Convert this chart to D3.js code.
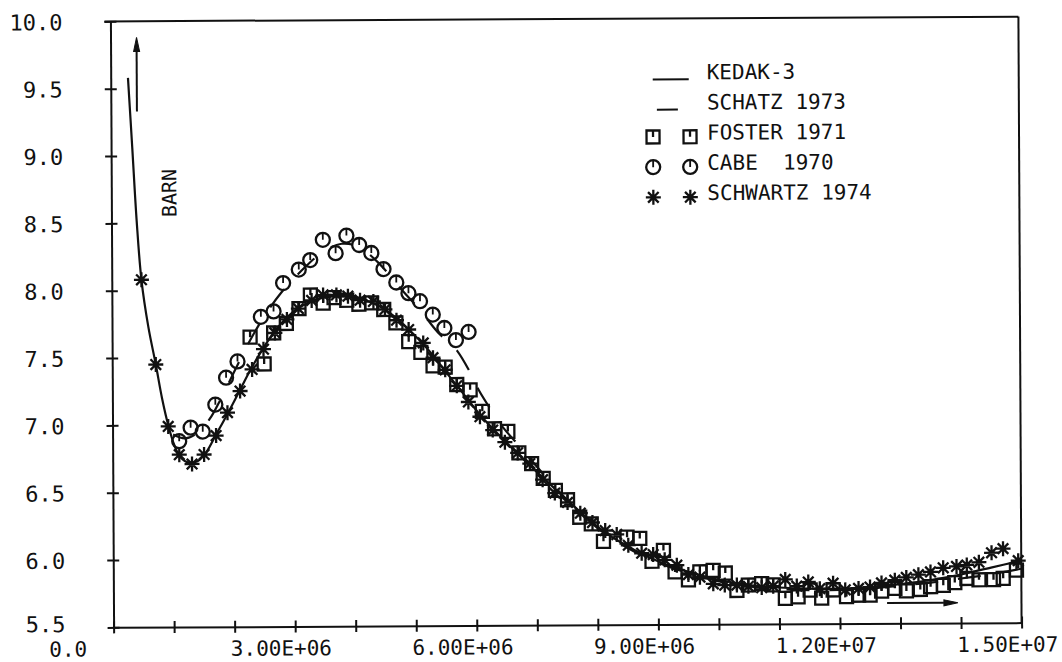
<!DOCTYPE html>
<html lang="en">
<head>
<meta charset="utf-8">
<script src="https://d3js.org/d3.v7.min.js"></script>
<style>
  body { margin: 0; background: #fff; }
  text { font-family: "DejaVu Sans Mono", monospace; fill: #111; }
</style>
</head>
<body>
<svg id="chart"></svg>
<script>
// energies in units of 1E6 (eV), cross sections in barn

// KEDAK-3 evaluated curve
var kedakE = [0.285, 0.35, 0.416, 0.49, 0.6, 0.72, 0.82, 0.92, 1.02, 1.12, 1.25, 1.4, 1.55, 1.7, 1.9, 2.1, 2.3, 2.5, 2.7, 2.9, 3.1, 3.4, 3.7, 4.0, 4.3, 4.6, 4.9, 5.2, 5.5, 5.8, 6.1, 6.5, 7.0, 7.5, 8.0, 8.5, 9.0, 9.5, 10.0, 10.5, 11.0, 11.5, 12.0, 12.5, 13.0, 13.5, 14.0, 14.5, 15.0];
var kedakS = [9.58, 9.06, 8.52, 8.08, 7.73, 7.45, 7.2, 7.0, 6.85, 6.76, 6.72, 6.73, 6.8, 6.92, 7.08, 7.25, 7.42, 7.57, 7.7, 7.8, 7.87, 7.93, 7.95, 7.94, 7.9, 7.82, 7.7, 7.56, 7.39, 7.22, 7.05, 6.86, 6.64, 6.43, 6.23, 6.08, 5.97, 5.89, 5.83, 5.79, 5.77, 5.76, 5.76, 5.77, 5.79, 5.82, 5.86, 5.91, 5.96];

// SCHATZ 1973 curve (dashed)
var schatzE = [1.0, 1.2, 1.4, 1.6, 1.8, 2.0, 2.2, 2.4, 2.6, 2.8, 3.0, 3.2, 3.4, 3.6, 3.8, 4.0, 4.2, 4.4, 4.6, 4.8, 5.0, 5.2, 5.4, 5.6, 5.7, 5.9, 6.05, 6.24, 6.45, 6.7, 7.0, 7.5, 8.0, 8.5, 9.0, 9.5, 10.0, 10.5, 11.0, 11.5, 12.0, 12.5, 13.0, 13.5, 14.0, 14.5, 15.0];
var schatzS = [6.93, 6.9, 6.94, 7.04, 7.2, 7.38, 7.56, 7.72, 7.86, 7.98, 8.08, 8.17, 8.25, 8.31, 8.34, 8.33, 8.28, 8.2, 8.1, 7.99, 7.89, 7.78, 7.67, 7.59, 7.54, 7.39, 7.25, 7.11, 6.97, 6.84, 6.68, 6.43, 6.22, 6.07, 5.96, 5.88, 5.82, 5.78, 5.76, 5.75, 5.75, 5.76, 5.78, 5.8, 5.83, 5.86, 5.9];

// FOSTER 1971 (squares)
var fosterE = [2.28, 2.51, 2.67, 2.88, 3.09, 3.28, 3.49, 3.67, 3.88, 4.08, 4.29, 4.49, 4.69, 4.9, 5.1, 5.3, 5.5, 5.69, 5.91, 6.11, 6.31, 6.53, 6.71, 6.92, 7.11, 7.31, 7.51, 7.71, 7.9, 8.1, 8.49, 8.7, 8.9, 9.09, 9.28, 9.5, 9.69, 9.91, 10.11, 10.3, 10.49, 10.71, 10.9, 11.1, 11.31, 11.51, 11.7, 11.89, 12.11, 12.31, 12.5, 12.69, 12.91, 13.1, 13.33, 13.5, 13.71, 13.9, 14.1, 14.3, 14.54, 14.7, 14.92];
var fosterS = [7.65, 7.45, 7.68, 7.75, 7.86, 7.96, 7.9, 7.94, 7.92, 7.89, 7.9, 7.85, 7.75, 7.61, 7.53, 7.43, 7.42, 7.29, 7.25, 7.09, 6.96, 6.94, 6.78, 6.7, 6.59, 6.5, 6.43, 6.3, 6.25, 6.12, 6.15, 6.14, 5.97, 6.05, 5.89, 5.83, 5.89, 5.9, 5.88, 5.75, 5.79, 5.8, 5.79, 5.69, 5.7, 5.75, 5.69, 5.75, 5.7, 5.71, 5.71, 5.74, 5.76, 5.74, 5.75, 5.77, 5.78, 5.8, 5.83, 5.82, 5.82, 5.83, 5.89];

// CABE 1970 (circles)
var cabeE = [1.1, 1.29, 1.49, 1.7, 1.88, 2.07, 2.46, 2.67, 2.83, 3.09, 3.28, 3.49, 3.7, 3.88, 4.09, 4.29, 4.49, 4.7, 4.9, 5.09, 5.3, 5.49, 5.68, 5.89];
var cabeS = [6.88, 6.98, 6.95, 7.15, 7.35, 7.47, 7.8, 7.84, 8.05, 8.15, 8.22, 8.37, 8.27, 8.4, 8.33, 8.27, 8.15, 8.05, 7.97, 7.91, 7.81, 7.71, 7.62, 7.68];

// SCHWARTZ 1974 (asterisks)
var schwartzE = [0.49, 0.72, 0.92, 1.1, 1.31, 1.51, 1.71, 1.9, 2.11, 2.31, 2.5, 2.69, 2.89, 3.08, 3.3, 3.49, 3.71, 3.9, 4.1, 4.32, 4.51, 4.7, 4.9, 5.14, 5.3, 5.5, 5.69, 5.88, 6.07, 6.28, 6.48, 6.69, 6.89, 7.1, 7.3, 7.51, 7.72, 7.92, 8.13, 8.32, 8.51, 8.73, 8.92, 9.11, 9.31, 9.5, 9.69, 9.91, 10.1, 10.3, 10.49, 10.71, 10.9, 11.1, 11.29, 11.48, 11.67, 11.89, 12.09, 12.31, 12.5, 12.69, 12.91, 13.1, 13.3, 13.5, 13.71, 13.93, 14.1, 14.3, 14.51, 14.7, 14.95];
var schwartzS = [8.08, 7.45, 6.99, 6.78, 6.71, 6.78, 6.92, 7.09, 7.25, 7.41, 7.56, 7.68, 7.78, 7.86, 7.92, 7.96, 7.96, 7.95, 7.92, 7.91, 7.85, 7.77, 7.7, 7.6, 7.49, 7.4, 7.28, 7.16, 7.05, 6.95, 6.86, 6.78, 6.7, 6.58, 6.48, 6.41, 6.33, 6.26, 6.2, 6.17, 6.09, 6.03, 6.02, 5.98, 5.94, 5.87, 5.85, 5.8, 5.79, 5.79, 5.78, 5.77, 5.78, 5.83, 5.78, 5.81, 5.76, 5.8, 5.75, 5.76, 5.77, 5.8, 5.82, 5.84, 5.86, 5.88, 5.91, 5.92, 5.93, 5.95, 6.02, 6.05, 5.96];

// axis ticks and labels
var xTickValues = [0, 3, 6, 9, 12, 15];
var xTickLabels = ["0.0", "3.00E+06", "6.00E+06", "9.00E+06", "1.20E+07", "1.50E+07"];
var yTickValues = [5.5, 6.0, 6.5, 7.0, 7.5, 8.0, 8.5, 9.0, 9.5, 10.0];
var yTickLabels = ["5.5", "6.0", "6.5", "7.0", "7.5", "8.0", "8.5", "9.0", "9.5", "10.0"];

var legendNames = ["KEDAK-3", "SCHATZ 1973", "FOSTER 1971", "CABE  1970", "SCHWARTZ 1974"];

var width = 1062, height = 662;
var plotLeft = 112, plotRight = 1020, plotTop = 19, plotBottom = 625;
var ink = "#111";

var svg = d3.select("#chart").attr("width", width).attr("height", height);
svg.append("rect").attr("width", width).attr("height", height).attr("fill", "#fff");

// the scanned plot sits a little askew
var g = svg.append("g").attr("transform", "rotate(-0.3,566,322)");

var x = d3.scaleLinear().domain([0, 15]).range([plotLeft, plotRight]);
var y = d3.scaleLinear().domain([5.5, 10]).range([plotBottom, plotTop]);

// frame
g.append("line").attr("x1", plotLeft - 6).attr("x2", plotRight).attr("y1", plotTop).attr("y2", plotTop)
  .attr("stroke", ink).attr("stroke-width", 2);
g.append("line").attr("x1", plotRight).attr("x2", plotRight).attr("y1", plotTop).attr("y2", plotBottom)
  .attr("stroke", ink).attr("stroke-width", 2);

// x axis
var xAxis = d3.axisBottom(x).tickValues(d3.range(0, 16)).tickSizeOuter(0)
  .tickFormat(function(d) {
    var i = xTickValues.indexOf(d);
    return i < 0 ? "" : xTickLabels[i];
  });
var gx = g.append("g").attr("transform", "translate(0," + plotBottom + ")").call(xAxis);
gx.select(".domain").attr("stroke", ink).attr("stroke-width", 2);
gx.selectAll(".tick line").attr("y1", -6).attr("y2", 6).attr("stroke", ink).attr("stroke-width", 2);
gx.selectAll(".tick text").attr("dy", null).attr("y", 29).attr("x", -65)
  .attr("text-anchor", "start").style("font-size", "21px").style("font-family", "DejaVu Sans Mono").attr("fill", ink);

// y axis
var yAxis = d3.axisLeft(y).tickValues(yTickValues).tickSizeOuter(0)
  .tickFormat(function(d, i) { return yTickLabels[i]; });
var gy = g.append("g").attr("transform", "translate(" + plotLeft + ",0)").call(yAxis);
gy.select(".domain").attr("stroke", ink).attr("stroke-width", 2);
gy.selectAll(".tick line").attr("x1", -6).attr("x2", 6).attr("stroke", ink).attr("stroke-width", 2);
gy.selectAll(".tick text").attr("dy", null)
  .attr("y", function(d) { return d === 5.5 ? 4 : 8; })   // lowest label sits a bit higher, clear of "0.0"
  .attr("x", -48)
  .attr("text-anchor", "end").style("font-size", "22px").style("font-family", "DejaVu Sans Mono").attr("fill", ink);

// curves
var line = d3.line()
  .x(function(d) { return x(d[0]); })
  .y(function(d) { return y(d[1]); })
  .curve(d3.curveCatmullRom.alpha(0.5));

g.append("path").datum(d3.zip(kedakE, kedakS)).attr("d", line)
  .attr("fill", "none").attr("stroke", ink).attr("stroke-width", 2.2);
g.append("path").datum(d3.zip(schatzE, schatzS)).attr("d", line)
  .attr("fill", "none").attr("stroke", ink).attr("stroke-width", 2.2)
  .attr("stroke-dasharray", "23,20");

// marker shapes
var squarePath = "M-6.5,-6.5H6.5V6.5H-6.5Z M0,-6.5V0";
var starPath = "M-7.5,0H7.5 M0,-7.5V7.5 M-5.3,-5.3L5.3,5.3 M-5.3,5.3L5.3,-5.3";

function addSquares(sel) {
  sel.append("path").attr("d", squarePath).attr("fill", "none").attr("stroke", ink).attr("stroke-width", 2.3);
}
function addCircles(sel) {
  sel.append("circle").attr("r", 7).attr("fill", "none").attr("stroke", ink).attr("stroke-width", 2.3);
  sel.append("path").attr("d", "M0,-7V0").attr("stroke", ink).attr("stroke-width", 1.8);
}
function addStars(sel) {
  sel.append("path").attr("d", starPath).attr("fill", "none").attr("stroke", ink).attr("stroke-width", 2.3);
}

g.selectAll("g.foster").data(d3.zip(fosterE, fosterS)).enter().append("g")
  .attr("class", "foster")
  .attr("transform", function(d) { return "translate(" + x(d[0]) + "," + y(d[1]) + ")"; })
  .call(addSquares);

g.selectAll("g.cabe").data(d3.zip(cabeE, cabeS)).enter().append("g")
  .attr("class", "cabe")
  .attr("transform", function(d) { return "translate(" + x(d[0]) + "," + y(d[1]) + ")"; })
  .call(addCircles);

g.selectAll("g.schwartz").data(d3.zip(schwartzE, schwartzS)).enter().append("g")
  .attr("class", "schwartz")
  .attr("transform", function(d) { return "translate(" + x(d[0]) + "," + y(d[1]) + ")"; })
  .call(addStars);

// annotations: BARN + arrows
g.append("text").text("BARN")
  .attr("transform", "translate(177,215) rotate(-90)")
  .style("font-size", "20px");

function arrow(x1, y1, x2, y2) {
  var a = Math.atan2(y2 - y1, x2 - x1), L = 14, w = 3;
  var bx = x2 - L * Math.cos(a), by = y2 - L * Math.sin(a);
  var px = -Math.sin(a) * w, py = Math.cos(a) * w;
  g.append("line").attr("x1", x1).attr("y1", y1).attr("x2", bx).attr("y2", by)
    .attr("stroke", ink).attr("stroke-width", 2);
  g.append("path")
    .attr("d", "M" + x2 + "," + y2 + "L" + (bx + px) + "," + (by + py) + "L" + (bx - px) + "," + (by - py) + "Z")
    .attr("fill", ink).attr("stroke", ink).attr("stroke-width", 1);
}
arrow(x(0.43), y(9.33), x(0.43), y(9.88));
arrow(x(12.78), y(5.65), x(13.95), y(5.65));

// legend
var legendX = 654, legendY = 80, legendStep = 30.2, legendText = 708;
var lg = g.append("g");
lg.selectAll("text").data(legendNames).enter().append("text")
  .attr("x", legendText)
  .attr("y", function(d, i) { return legendY + i * legendStep; })
  .style("font-size", "21px")
  .style("white-space", "pre")
  .text(function(d) { return d; });

lg.append("line").attr("x1", legendX).attr("x2", legendX + 36).attr("y1", legendY).attr("y2", legendY)
  .attr("stroke", ink).attr("stroke-width", 2);
lg.append("line").attr("x1", legendX + 4).attr("x2", legendX + 25).attr("y1", legendY + legendStep).attr("y2", legendY + legendStep)
  .attr("stroke", ink).attr("stroke-width", 2);

var legendMarkX = [legendX, legendX + 37];
lg.selectAll("g.ls").data(legendMarkX).enter().append("g")
  .attr("transform", function(d) { return "translate(" + d + "," + (legendY + 2 * legendStep - 3) + ")"; })
  .call(addSquares);
lg.selectAll("g.lc").data(legendMarkX).enter().append("g")
  .attr("transform", function(d) { return "translate(" + d + "," + (legendY + 3 * legendStep - 3) + ")"; })
  .call(addCircles);
lg.selectAll("g.la").data(legendMarkX).enter().append("g")
  .attr("transform", function(d) { return "translate(" + d + "," + (legendY + 4 * legendStep - 3) + ")"; })
  .call(addStars);
</script>
</body>
</html>
